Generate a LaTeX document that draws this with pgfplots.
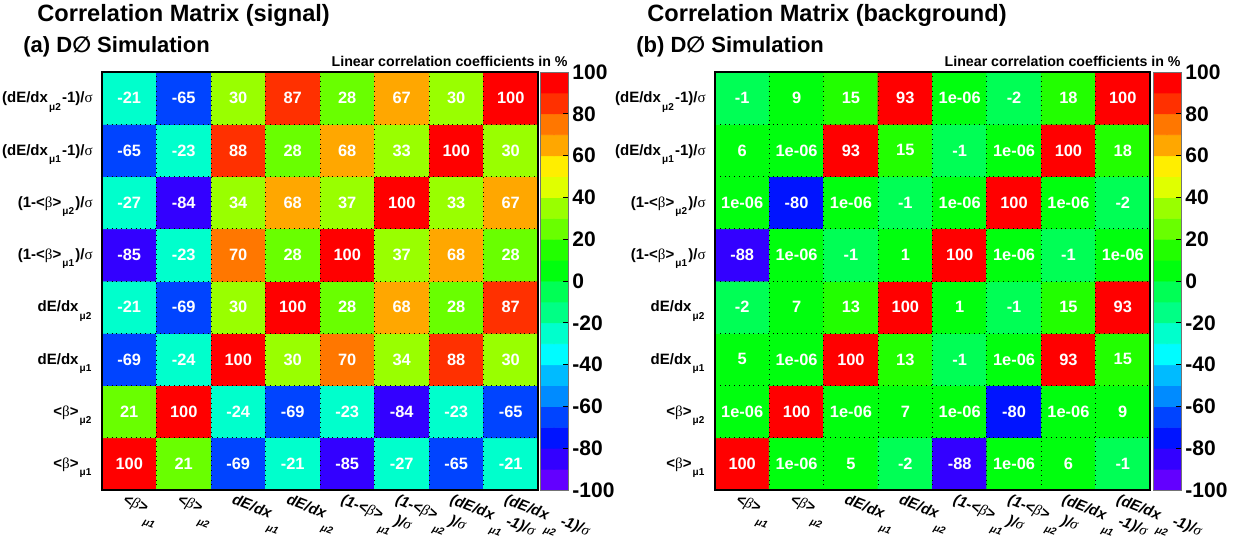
\documentclass[border=0pt]{standalone}
\usepackage{pgfplots}
\pgfplotsset{compat=1.18}
\usepackage{pgfplotstable}
\usepackage{fontspec}
\setmainfont{Liberation Sans}
\newfontfamily\grfont{Liberation Serif}
\newfontfamily\djv{DejaVu Sans}
\newcommand{\gr}[1]{{\grfont\mdseries #1}}
\newcommand{\suby}[1]{\kern0.6pt\raisebox{-0.9ex}{\fontsize{5}{6}\selectfont #1}\kern0.6pt}
\newcommand{\subx}[1]{\kern0.6pt\raisebox{-1.6ex}{\fontsize{5}{6}\selectfont #1}\kern0.6pt}

\pgfplotsset{colormap={rootpal}{
 rgb255=(99,0,255) rgb255=(51,0,255) rgb255=(0,20,255) rgb255=(0,68,255)
 rgb255=(0,139,255) rgb255=(0,187,255) rgb255=(0,252,255) rgb255=(0,255,204)
 rgb255=(0,255,133) rgb255=(0,255,85) rgb255=(0,255,14) rgb255=(34,255,0)
 rgb255=(105,255,0) rgb255=(153,255,0) rgb255=(224,255,0) rgb255=(255,238,0)
 rgb255=(255,167,0) rgb255=(255,119,0) rgb255=(255,48,0) rgb255=(255,0,0)}}

% signal correlation matrix (x = column, y = row from bottom, v = value in %)
\pgfplotstableread{
x y v
0 0 100
1 0 21
2 0 -69
3 0 -21
4 0 -85
5 0 -27
6 0 -65
7 0 -21
0 1 21
1 1 100
2 1 -24
3 1 -69
4 1 -23
5 1 -84
6 1 -23
7 1 -65
0 2 -69
1 2 -24
2 2 100
3 2 30
4 2 70
5 2 34
6 2 88
7 2 30
0 3 -21
1 3 -69
2 3 30
3 3 100
4 3 28
5 3 68
6 3 28
7 3 87
0 4 -85
1 4 -23
2 4 70
3 4 28
4 4 100
5 4 37
6 4 68
7 4 28
0 5 -27
1 5 -84
2 5 34
3 5 68
4 5 37
5 5 100
6 5 33
7 5 67
0 6 -65
1 6 -23
2 6 88
3 6 28
4 6 68
5 6 33
6 6 100
7 6 30
0 7 -21
1 7 -65
2 7 30
3 7 87
4 7 28
5 7 67
6 7 30
7 7 100
}\sigtab

% background correlation matrix
\pgfplotstableread{
x y v
0 0 100
1 0 1e-06
2 0 5
3 0 -2
4 0 -88
5 0 1e-06
6 0 6
7 0 -1
0 1 1e-06
1 1 100
2 1 1e-06
3 1 7
4 1 1e-06
5 1 -80
6 1 1e-06
7 1 9
0 2 5
1 2 1e-06
2 2 100
3 2 13
4 2 -1
5 2 1e-06
6 2 93
7 2 15
0 3 -2
1 3 7
2 3 13
3 3 100
4 3 1
5 3 -1
6 3 15
7 3 93
0 4 -88
1 4 1e-06
2 4 -1
3 4 1
4 4 100
5 4 1e-06
6 4 -1
7 4 1e-06
0 5 1e-06
1 5 -80
2 5 1e-06
3 5 -1
4 5 1e-06
5 5 100
6 5 1e-06
7 5 -2
0 6 6
1 6 1e-06
2 6 93
3 6 15
4 6 -1
5 6 1e-06
6 6 100
7 6 18
0 7 -1
1 7 9
2 7 15
3 7 93
4 7 1e-06
5 7 -2
6 7 18
7 7 100
}\bkgtab

% colour bar bands: centre of each 10 % band and its colour index
\pgfplotstableread{
x y c
0 -95 0
1 -95 0
0 -85 1
1 -85 1
0 -75 2
1 -75 2
0 -65 3
1 -65 3
0 -55 4
1 -55 4
0 -45 5
1 -45 5
0 -35 6
1 -35 6
0 -25 7
1 -25 7
0 -15 8
1 -15 8
0 -5 9
1 -5 9
0 5 10
1 5 10
0 15 11
1 15 11
0 25 12
1 25 12
0 35 13
1 35 13
0 45 14
1 45 14
0 55 15
1 55 15
0 65 16
1 65 16
0 75 17
1 75 17
0 85 18
1 85 18
0 95 19
1 95 19
}\cbtab

\pgfplotsset{
 corrmat/.style={
  scale only axis, anchor=south west,
  width=218pt, height=209pt,
  xmin=-0.5, xmax=7.5, ymin=-0.5, ymax=7.5,
  xtick={0,...,7}, ytick={0,...,7},
  major tick length=0pt, minor tick length=0pt,
  minor xtick={0.5,1.5,...,6.5}, minor ytick={0.5,1.5,...,6.5},
  grid=minor, minor grid style={black, dotted, line width=0.45pt},
  axis on top, axis line style={black, line width=0.6pt},
  colormap name=rootpal, point meta min=0, point meta max=19,
  xticklabels={{<\gr{β}>\subx{μ1}}, {<\gr{β}>\subx{μ2}}, {dE/dx\subx{μ1}}, {dE/dx\subx{μ2}},
   {(1-<\gr{β}>\subx{μ1})/\gr{σ}}, {(1-<\gr{β}>\subx{μ2})/\gr{σ}},
   {(dE/dx\subx{μ1}-1)/\gr{σ}}, {(dE/dx\subx{μ2}-1)/\gr{σ}}},
  yticklabels={{<\gr{β}>\suby{μ1}}, {<\gr{β}>\suby{μ2}}, {dE/dx\suby{μ1}}, {dE/dx\suby{μ2}},
   {(1-<\gr{β}>\suby{μ1})/\gr{σ}}, {(1-<\gr{β}>\suby{μ2})/\gr{σ}},
   {(dE/dx\suby{μ1}-1)/\gr{σ}}, {(dE/dx\suby{μ2}-1)/\gr{σ}}},
  xticklabel style={font=\bfseries\itshape\fontsize{7.5}{9}\selectfont, rotate=-21,
   anchor=north west, inner sep=0pt, yshift=-2pt, xshift=-1pt},
  yticklabel style={font=\bfseries\fontsize{7.5}{9}\selectfont, anchor=east,
   inner sep=0pt, xshift=-4.5pt, yshift=-2pt},
 },
 cellcol/.style={matrix plot*, mesh/cols=8, point meta=explicit},
 celltxt/.style={draw=none, mark=none, nodes near coords, point meta=explicit symbolic,
   every node near coord/.append style={anchor=center, text=white,
   font=\bfseries\fontsize{8.2}{9}\selectfont}},
 cbar/.style={
  scale only axis, anchor=south west,
  width=14pt, height=209pt,
  xmin=-0.5, xmax=1.5, ymin=-100, ymax=100,
  xtick=\empty, ytick={-100,-80,...,100},
  yticklabels={-100,-80,-60,-40,-20,0,20,40,60,80,100},
  ytick pos=right, yticklabel pos=right, tick align=inside,
  major tick length=2.5pt, tick style={black, line width=0.5pt},
  axis on top, axis line style={black!55, line width=0.5pt},
  colormap name=rootpal, point meta min=0, point meta max=19,
  yticklabel style={font=\bfseries\fontsize{10.5}{12}\selectfont,
   anchor=west, inner sep=0pt, xshift=2pt},
 },
}

\begin{document}
\begin{tikzpicture}
\useasboundingbox (0,0) rectangle (622pt,269pt);

% ---------- signal ----------
\node[anchor=base west, inner sep=0pt, font=\bfseries\fontsize{11.8}{13}\selectfont]
  at (18.5pt,258.5pt) {Correlation Matrix (signal)};
\node[anchor=base west, inner sep=0pt, font=\bfseries\fontsize{11}{12}\selectfont]
  at (11.5pt,243pt) {(a) D{\djv\bfseries ∅} Simulation};
\node[anchor=base east, inner sep=0pt, font=\bfseries\fontsize{7.1}{8}\selectfont]
  at (284pt,236pt) {Linear correlation coefficients in \%};

\begin{axis}[corrmat, at={(51pt,24pt)}]
\addplot[cellcol] table[x=x, y=y, meta expr={min(19,floor((\thisrow{v}+100)/10+0.001))}] {\sigtab};
\addplot[celltxt] table[x=x, y=y, meta=v] {\sigtab};
\end{axis}
\begin{axis}[cbar, at={(270pt,24pt)}]
\addplot[matrix plot*, mesh/cols=2, point meta=explicit] table[x=x, y=y, meta=c] {\cbtab};
\end{axis}

% ---------- background ----------
\node[anchor=base west, inner sep=0pt, font=\bfseries\fontsize{11.8}{13}\selectfont]
  at (323.5pt,258.5pt) {Correlation Matrix (background)};
\node[anchor=base west, inner sep=0pt, font=\bfseries\fontsize{11}{12}\selectfont]
  at (318pt,243pt) {(b) D{\djv\bfseries ∅} Simulation};
\node[anchor=base east, inner sep=0pt, font=\bfseries\fontsize{7.1}{8}\selectfont]
  at (590.5pt,236pt) {Linear correlation coefficients in \%};

\begin{axis}[corrmat, at={(357.5pt,24pt)}, width=217.5pt]
\addplot[cellcol] table[x=x, y=y, meta expr={min(19,floor((\thisrow{v}+100)/10+0.001))}] {\bkgtab};
\addplot[celltxt] table[x=x, y=y, meta=v] {\bkgtab};
\end{axis}
\begin{axis}[cbar, at={(576.5pt,24pt)}]
\addplot[matrix plot*, mesh/cols=2, point meta=explicit] table[x=x, y=y, meta=c] {\cbtab};
\end{axis}
\end{tikzpicture}
\end{document}
